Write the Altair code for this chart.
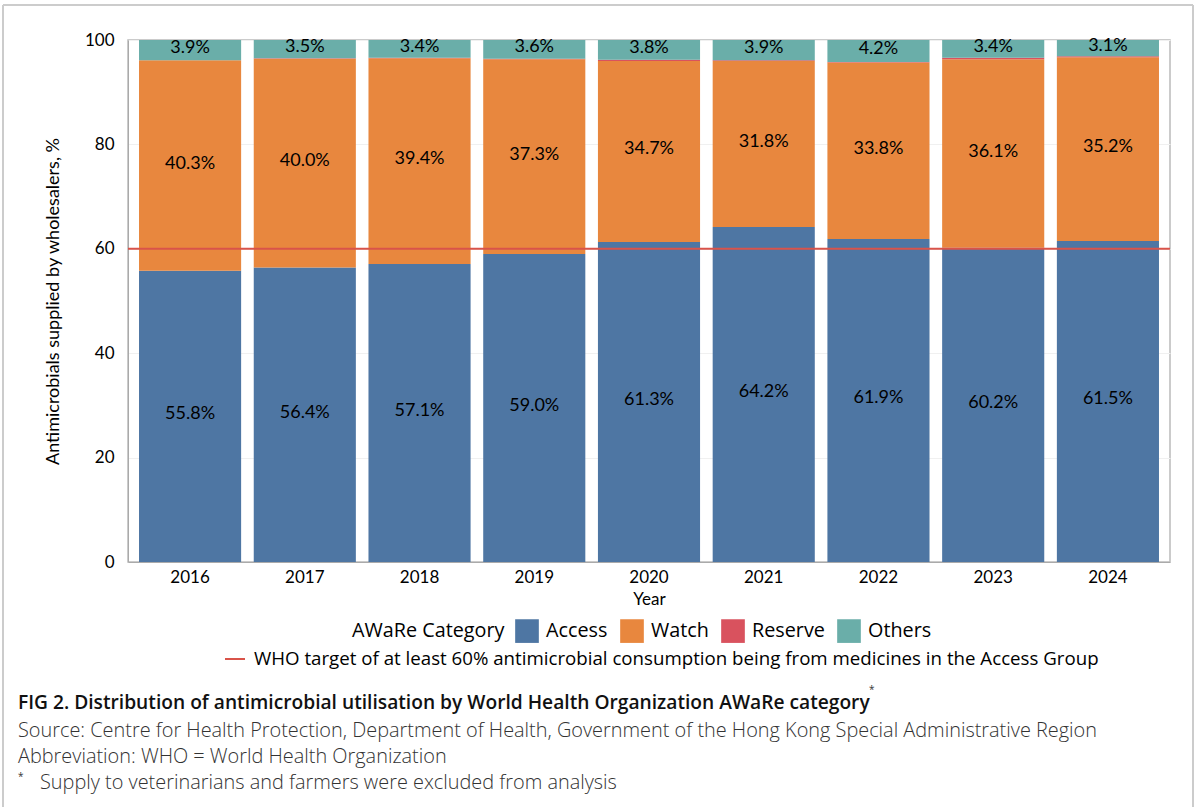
import altair as alt
import pandas as pd

years = ["2016", "2017", "2018", "2019", "2020", "2021", "2022", "2023", "2024"]
categories = ["Access", "Watch", "Reserve", "Others"]
access = [55.8, 56.4, 57.1, 59.0, 61.3, 64.2, 61.9, 60.2, 61.5]
watch = [40.3, 40.0, 39.4, 37.3, 34.7, 31.8, 33.8, 36.1, 35.2]
reserve = [0.0, 0.1, 0.1, 0.1, 0.2, 0.1, 0.1, 0.3, 0.2]
others = [3.9, 3.5, 3.4, 3.6, 3.8, 3.9, 4.2, 3.4, 3.1]
colors = ["#4e76a3", "#e8873e", "#d9525e", "#6aaea9"]
target = 60
target_label = "WHO target of at least 60% antimicrobial consumption being from medicines in the Access Group"

caption_title = "FIG 2.  Distribution of antimicrobial utilisation by World Health Organization AWaRe category"
caption_lines = [
    "Source: Centre for Health Protection, Department of Health, Government of the Hong Kong Special Administrative Region",
    "Abbreviation: WHO = World Health Organization",
]
footnote = "Supply to veterinarians and farmers were excluded from analysis"

rows = []
for i, y in enumerate(years):
    for k, (cat, series) in enumerate(zip(categories, [access, watch, reserve, others])):
        rows.append({"Year": y, "Category": cat, "Value": series[i], "order": k})
df = pd.DataFrame(rows)

FONT = "Lato"
FONT2 = "Open Sans"
W, H = 1042, 522

base = alt.Chart(df)

bars = base.mark_bar().encode(
    x=alt.X("Year:N", scale=alt.Scale(paddingInner=0.11, paddingOuter=0.096),
            axis=alt.Axis(title="Year", labelAngle=0, labelFontSize=17, titleFontSize=17,
                          titleFontWeight="normal", labelPadding=7, titlePadding=6,
                          ticks=False, domainColor="#aaaaaa", labelColor="#000", titleColor="#000")),
    y=alt.Y("Value:Q", stack="zero", scale=alt.Scale(domain=[0, 100], nice=False),
            axis=alt.Axis(title="Antimicrobials supplied by wholesalers, %", values=[0, 20, 40, 60, 80, 100],
                          labelFontSize=17, titleFontSize=18, titleFontWeight="normal",
                          labelPadding=14, titlePadding=22, ticks=False, domainColor="#aaaaaa",
                          gridColor="#f0f0f0", labelColor="#000", titleColor="#000")),
    color=alt.Color("Category:N", scale=alt.Scale(domain=categories, range=colors),
                    legend=alt.Legend(title="AWaRe Category", orient="none", legendX=224, legendY=579,
                                      direction="horizontal", titleOrient="left", symbolType="square",
                                      symbolSize=560, symbolStrokeWidth=0, labelFontSize=19.8, titleFontSize=19.8,
                                      labelFont=FONT2, titleFont=FONT2,
                                      titleFontWeight="normal", columnPadding=12, labelOffset=7,
                                      labelColor="#000", titleColor="#000", titlePadding=10)),
    order=alt.Order("order:Q"),
)

labels = base.transform_stack(
    stack="Value", groupby=["Year"], as_=["v0", "v1"], sort=[alt.SortField("order", "ascending")]
).transform_calculate(
    mid="(datum.v0 + datum.v1) / 2",
    lab="format(datum.Value, '.1f') + '%'"
).transform_filter(
    "datum.Category != 'Reserve'"
).mark_text(fontSize=18, color="#000", font=FONT, dy=-2).encode(
    x=alt.X("Year:N"),
    y=alt.Y("mid:Q"),
    text="lab:N",
)

tdf = pd.DataFrame({"y": [target], "label": [target_label]})
rule = alt.Chart(tdf).mark_rule(strokeWidth=2).encode(
    y="y:Q",
    stroke=alt.Stroke("label:N", scale=alt.Scale(range=["#d9534a"]),
                      legend=alt.Legend(title=None, orient="none", legendX=96, legendY=608,
                                        symbolType="stroke", symbolSize=400, symbolStrokeWidth=2,
                                        labelFont=FONT2, labelOffset=8,
                                        labelFontSize=18.7, labelColor="#000", labelLimit=1000)),
)

cap = pd.DataFrame({
    "t": [caption_title, caption_lines[0], caption_lines[1], "*", footnote],
    "x": [-110, -110, -110, -110, -88],
    "y": [663, 691, 717, 737, 743],
    "w": ["title", "body", "body", "star", "body"],
})

cap_title = alt.Chart(cap).transform_filter("datum.w == 'title'").mark_text(
    align="left", baseline="middle", fontSize=19.2, font=FONT2, color="#111", fontWeight=600
).encode(x=alt.X("x:Q", scale=None), y=alt.Y("y:Q", scale=None), text="t:N")

cap_body = alt.Chart(cap).transform_filter("datum.w == 'body'").mark_text(
    align="left", baseline="middle", fontSize=19.9, font=FONT2, color="#333", fontWeight=300
).encode(x=alt.X("x:Q", scale=None), y=alt.Y("y:Q", scale=None), text="t:N")

cap_star = alt.Chart(cap).transform_filter("datum.w == 'star'").mark_text(
    align="left", baseline="middle", fontSize=10, font=FONT2, color="#333"
).encode(x=alt.X("x:Q", scale=None), y=alt.Y("y:Q", scale=None), text="t:N")

star2 = alt.Chart(pd.DataFrame({"t": ["*"]})).mark_text(
    align="left", baseline="middle", fontSize=10, font=FONT2, color="#333"
).encode(x=alt.value(741), y=alt.value(650), text="t:N")

frame = alt.Chart(pd.DataFrame({"a": [0]})).mark_rule(color="#cccccc", strokeWidth=2)
left_b = frame.encode(x=alt.value(-125), y=alt.value(-35), y2=alt.value(770))
top_b = frame.encode(x=alt.value(-125), x2=alt.value(1065), y=alt.value(-35))
right_b = frame.encode(x=alt.value(1065), y=alt.value(-35), y2=alt.value(770))

chart = alt.layer(
    bars, labels, rule, cap_title, cap_body, cap_star, star2, left_b, top_b, right_b
).resolve_scale(color="independent").properties(
    width=W, height=H,
    autosize=alt.AutoSizeParams(type="none"),
    padding={"left": 128, "top": 40, "right": 28, "bottom": 245},
).configure(font=FONT).configure_view(stroke="#bbbbbb", strokeWidth=1.5).configure_axis(
    labelFont=FONT, titleFont=FONT
)

chart.save("out.html", embed_options={"renderer": "svg", "actions": False})
